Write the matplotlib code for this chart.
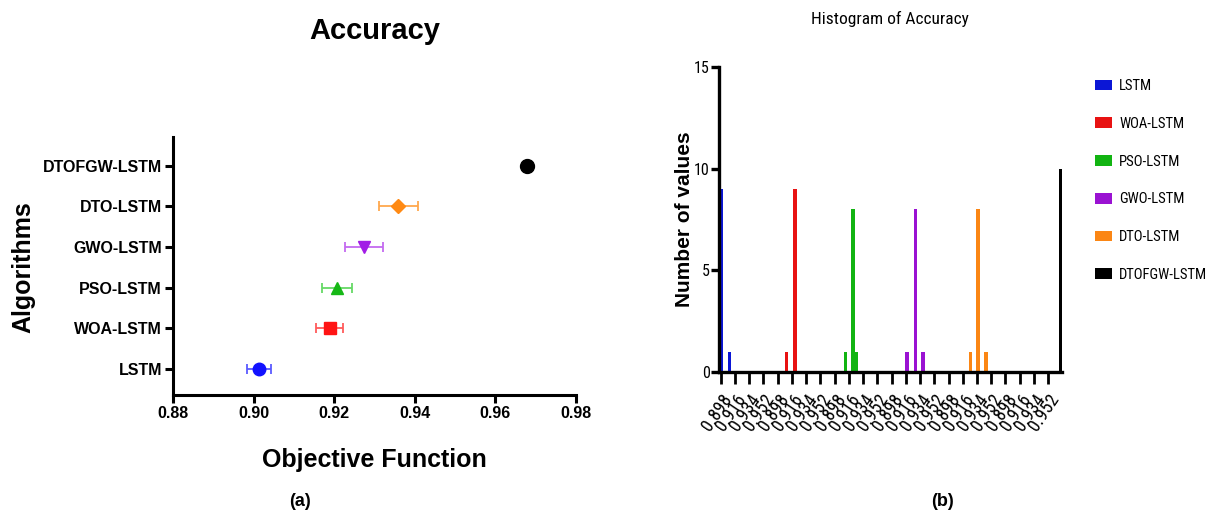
import os
import matplotlib
matplotlib.use('Agg')
import matplotlib.pyplot as plt
from matplotlib import font_manager
from matplotlib.font_manager import FontProperties
from matplotlib.patches import Patch

# ---------------- data ----------------
algorithms = ['LSTM', 'WOA-LSTM', 'PSO-LSTM', 'GWO-LSTM', 'DTO-LSTM', 'DTOFGW-LSTM']
mean_acc = [0.9014, 0.9189, 0.9207, 0.9274, 0.9359, 0.9679]
err_acc = [0.0030, 0.0034, 0.0038, 0.0048, 0.0049, 0.0]
xticks_a = [0.88, 0.90, 0.92, 0.94, 0.96, 0.98]

base_ticks = [0.898, 0.916, 0.934, 0.952]
hist_tick_labels = ['0.898', '0.916', '0.934', '0.952'] * 6
hist_yticks = [0, 5, 10, 15]

lstm_bins = [0.8989, 0.9093]
lstm_counts = [9, 1]
woa_bins = [0.9090, 0.9196]
woa_counts = [1, 9]
pso_bins = [0.9117, 0.9214, 0.9255]
pso_counts = [1, 8, 1]
gwo_bins = [0.9176, 0.9282, 0.9380]
gwo_counts = [1, 8, 1]
dto_bins = [0.9257, 0.9354, 0.9452]
dto_counts = [1, 8, 1]
dtofgw_bins = [0.9675]
dtofgw_counts = [10]

hist_bins = [lstm_bins, woa_bins, pso_bins, gwo_bins, dto_bins, dtofgw_bins]
hist_counts = [lstm_counts, woa_counts, pso_counts, gwo_counts, dto_counts, dtofgw_counts]

# ---------------- styles ----------------
marker_colors = ['#1212ff', '#ff1414', '#16b816', '#a21ce6', '#ff8a14', '#000000']
err_colors = ['#5a5aff', '#ff5a5a', '#66d966', '#c46af0', '#ffa84d', '#000000']
markers = ['o', 's', '^', 'v', 'D', 'o']
msizes = [9, 8, 9, 9, 7, 10]
bar_colors = ['#0b16d6', '#e81212', '#12b412', '#9a12d2', '#fb8614', '#000000']

plt.rcParams['font.family'] = ['Liberation Sans', 'DejaVu Sans']

# find a narrow / condensed sans font for panel (b)
def pick_narrow():
    pref = ['liberation sans narrow', 'arial narrow', 'roboto condensed',
            'open sans condensed', 'noto sans', 'dejavu sans', 'lato', 'inter']
    found = []
    for f in font_manager.fontManager.ttflist:
        n = f.name.lower()
        fn = os.path.basename(f.fname).lower()
        if 'serif' in n or 'mono' in n or 'cjk' in n:
            continue
        if f.style != 'normal':
            continue
        w = f.weight
        if isinstance(w, str):
            if w not in ('normal', 'regular', 'book', 'medium'):
                continue
        elif not (380 <= w <= 520):
            continue
        if 'bold' in fn or 'light' in fn or 'thin' in fn or 'italic' in fn or 'black' in fn or 'semi' in fn:
            continue
        narrowish = ('narrow' in n or 'condensed' in n or 'narrow' in fn or 'condensed' in fn
                     or f.stretch in ('condensed',))
        if 'extra' in fn or 'ultra' in fn or 'extra' in n:
            continue
        if narrowish:
            rank = len(pref)
            for i, p in enumerate(pref):
                if n.startswith(p):
                    rank = i
                    break
            found.append((rank, f.fname))
    if found:
        found.sort()
        return found[0][1]
    return None

narrow_path = pick_narrow()

def nfont(size):
    if narrow_path:
        return FontProperties(fname=narrow_path, size=size)
    return FontProperties(family='Liberation Sans', size=size * 0.82)

W, H = 1214, 518
fig = plt.figure(figsize=(W / 100, H / 100), dpi=100)

def fx(px):
    return px / W

def fy(py):
    return 1 - py / H

# ---------------- panel (a) ----------------
axa = fig.add_axes([fx(173), fy(395), fx(576 - 173), (395 - 137) / H])
for i, alg in enumerate(algorithms):
    if err_acc[i] > 0:
        axa.errorbar(mean_acc[i], i, xerr=err_acc[i], fmt='none', ecolor=err_colors[i],
                     elinewidth=1.3, capsize=3.8, capthick=1.3, zorder=2)
    axa.plot(mean_acc[i], i, marker=markers[i], color=marker_colors[i],
             markersize=msizes[i], linestyle='none', zorder=3)
axa.set_xlim(0.88, 0.98)
axa.set_ylim(-0.65, 5.71)
axa.set_xticks(xticks_a)
axa.set_xticklabels([f'{v:.2f}' for v in xticks_a], fontsize=11.5, fontweight='bold')
axa.set_yticks(range(len(algorithms)))
axa.set_yticklabels(algorithms, fontsize=11.5, fontweight='bold')
for s in ['top', 'right']:
    axa.spines[s].set_visible(False)
for s in ['left', 'bottom']:
    axa.spines[s].set_linewidth(2.2)
axa.tick_params(axis='both', width=2.2, length=6, pad=2)
fig.text(fx(375), fy(31), 'Accuracy', fontsize=21, fontweight='bold', ha='center', va='center')
fig.text(fx(374), fy(460), 'Objective Function', fontsize=18, fontweight='bold', ha='center', va='center')
fig.text(fx(23), fy(267), 'Algorithms', fontsize=18, fontweight='bold', ha='center', va='center', rotation=90)
fig.text(fx(300), fy(502), '(a)', fontsize=13, fontweight='bold', ha='center', va='center')

# ---------------- panel (b) ----------------
axb = fig.add_axes([fx(719), fy(372), fx(1062 - 719), (372 - 67) / H])
n_base = len(base_ticks)
step = base_ticks[1] - base_ticks[0]
for g, (bins, counts) in enumerate(zip(hist_bins, hist_counts)):
    pos = [g * n_base + (b - base_ticks[0]) / step for b in bins]
    axb.bar(pos, counts, width=0.26, color=bar_colors[g], label=algorithms[g], zorder=2)
axb.set_xlim(-0.12, 23.97)
axb.set_ylim(0, 15)
axb.set_xticks(range(len(hist_tick_labels)))
axb.set_xticklabels(hist_tick_labels, rotation=56, ha='right', va='top',
                    rotation_mode='anchor')
for lab in axb.get_xticklabels():
    lab.set_fontproperties(nfont(13))
axb.set_yticks(hist_yticks)
axb.set_yticklabels([str(v) for v in hist_yticks])
for lab in axb.get_yticklabels():
    lab.set_fontproperties(nfont(11.5))
for s in ['top', 'right']:
    axb.spines[s].set_visible(False)
for s in ['left', 'bottom']:
    axb.spines[s].set_linewidth(2.4)
axb.tick_params(axis='x', width=2.0, length=8.5, pad=5)
axb.tick_params(axis='y', width=2.4, length=6, pad=0.5)
fig.text(fx(890), fy(19), 'Histogram of Accuracy', fontproperties=nfont(12.5), ha='center', va='center')
fig.text(fx(684), fy(219), 'Number of values', fontsize=15, fontweight='bold', ha='center', va='center', rotation=90)
fig.text(fx(943), fy(502), '(b)', fontsize=13, fontweight='bold', ha='center', va='center')

handles = [Patch(facecolor=c) for c in bar_colors]
fig.legend(handles, algorithms, loc='upper left', bbox_to_anchor=(fx(1095), fy(79)),
           frameon=False, borderpad=0, borderaxespad=0, handlelength=1.16,
           handleheight=0.75, handletextpad=0.5, labelspacing=1.63,
           prop=nfont(10.5))

fig.savefig('out.png', dpi=100)
